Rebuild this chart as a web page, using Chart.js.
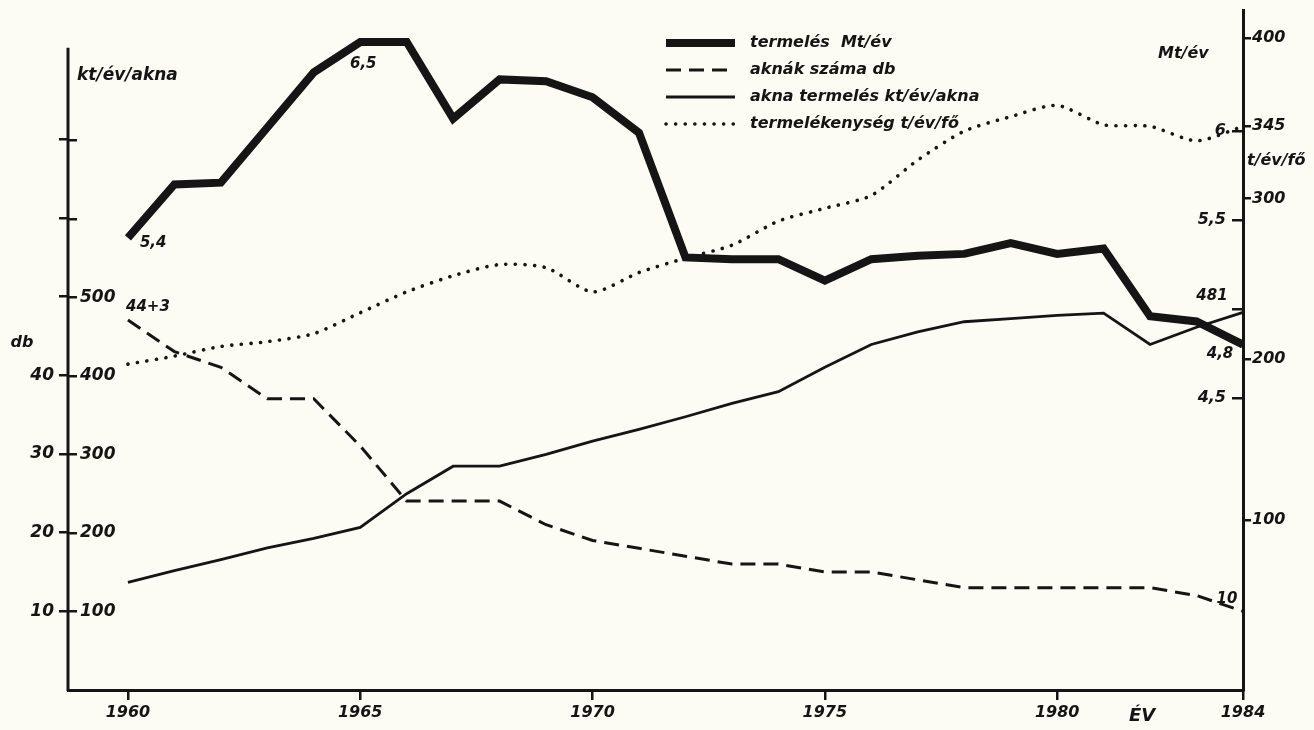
<!DOCTYPE html>
<html lang="hu">
<head>
<meta charset="utf-8">
<title>Termelés, aknák száma, termelékenység 1960–1984</title>
<script src="https://cdn.jsdelivr.net/npm/chart.js@4.4.1/dist/chart.umd.min.js"></script>
<style>
  html, body { margin: 0; padding: 0; background: #fcfcf4; }
  #chart { display: block; }
</style>
</head>
<body>
<canvas id="chart" width="1314" height="730"></canvas>
<script>
// ── Series (1960–1984) ─────────────────────────────────────────────
const YEARS = [1960, 1961, 1962, 1963, 1964, 1965, 1966, 1967, 1968, 1969,
               1970, 1971, 1972, 1973, 1974, 1975, 1976, 1977, 1978, 1979,
               1980, 1981, 1982, 1983, 1984];

// termelés, Mt/év
const TERMELES = [5.4, 5.70, 5.71, 6.02, 6.33, 6.5, 6.5, 6.07, 6.29, 6.28,
                  6.19, 5.99, 5.29, 5.28, 5.28, 5.16, 5.28, 5.30, 5.31, 5.37,
                  5.31, 5.34, 4.96, 4.93, 4.8];

// aknák száma, db
const AKNAK = [47, 43, 41, 37, 37, 31, 24, 24, 24, 21,
               19, 18, 17, 16, 16, 15, 15, 14, 13, 13,
               13, 13, 13, 12, 10];

// akna termelés, kt/év/akna
const AKNA_TERMELES = [137, 152, 166, 181, 193, 207, 250, 285, 285, 300,
                       317, 332, 348, 365, 380, 411, 440, 456, 469, 473,
                       477, 480, 440, 462, 481];

// termelékenység, t/év/fő
const TERMELEKENYSEG = [197, 202, 208, 211, 216, 229, 242, 252, 259, 257,
                        242, 254, 263, 271, 286, 294, 302, 324, 342, 351,
                        358, 346, 345, 336, 345];

const LEGEND_LABELS = [
  "termelés  Mt/év",
  "aknák száma db",
  "akna termelés kt/év/akna",
  "termelékenység t/év/fő",
];

// ── Tick values ────────────────────────────────────────────────────
const X_TICKS  = [1960, 1965, 1970, 1975, 1980, 1984];
const DB_TICKS = [10, 20, 30, 40, 50, 60, 70];
const KT_TICKS = [100, 200, 300, 400, 500, 600, 700];
const MT_TICKS = [4.5, 5, 5.5, 6];
const MT_TICK_TEXT = ["4,5", "", "5,5", "6"];
const T_TICKS  = [100, 200, 300, 345, 400];

// ── Look ───────────────────────────────────────────────────────────
const INK  = "#151515";
const FACE = '"DejaVu Sans", "Liberation Sans", sans-serif';
const font = size => ({ family: FACE, size, weight: "bold", style: "italic" });
const cssFont = size => `italic bold ${size}px ${FACE}`;

const pts = vals => YEARS.map((x, i) => ({ x, y: vals[i] }));
const comma = v => String(v).replace(".", ",");
const setTicks = values => scale => { scale.ticks = values.map(v => ({ value: v })); };

// fixed axis boxes, no extra room for half tick labels
const fixBox = (w, h) => scale => {
  if (w !== null) scale.width = w;
  if (h !== null) scale.height = h;
  scale.paddingTop = scale.paddingBottom = 0;
  scale.paddingLeft = scale.paddingRight = 0;
};

// left axis line stops short of the top (in kt units)
const KT_AXIS_END = 818;

// value notes next to the line ends
const NOTES = [
  { ds: 0, i: 0,  text: comma(TERMELES[0]),  dx: 12,  dy: 5,   align: "left" },
  { ds: 0, i: 5,  text: comma(TERMELES[5]),  dx: 3,   dy: 22,  align: "center" },
  { ds: 1, i: 0,  text: "44+3",              dx: 20,  dy: -13, align: "center" },
  { ds: 2, i: 24, text: String(AKNA_TERMELES[24]), dx: -31, dy: -16, align: "center" },
  { ds: 0, i: 24, text: comma(TERMELES[24]), dx: -23, dy: 9,   align: "center" },
  { ds: 1, i: 24, text: String(AKNAK[24]),   dx: -16, dy: -12, align: "center" },
];

const UNIT_LABELS = [
  { text: "kt/év/akna", x: 77,   y: 76,  size: 17, align: "left" },
  { text: "db",         x: 22,   y: 343, size: 16, align: "center" },
  { text: "Mt/év",      x: 1158, y: 54,  size: 16, align: "left" },
  { text: "t/év/fő",    x: 1247, y: 161, size: 16, align: "left" },
  { text: "ÉV",         x: 1142, y: 716, size: 18, align: "center" },
];

// ── Decorations: left axis, unit labels, notes, legend ─────────────
const decor = {
  id: "decor",
  afterDraw(chart) {
    const ctx = chart.ctx;
    const kt = chart.scales.yKt;
    const area = chart.chartArea;
    ctx.save();

    // left axis line
    ctx.strokeStyle = INK;
    ctx.lineWidth = 3;
    ctx.beginPath();
    ctx.moveTo(area.left, kt.getPixelForValue(KT_AXIS_END));
    ctx.lineTo(area.left, area.bottom + 1);
    ctx.stroke();

    ctx.fillStyle = INK;
    ctx.textBaseline = "middle";
    UNIT_LABELS.forEach(l => {
      ctx.font = cssFont(l.size);
      ctx.textAlign = l.align;
      ctx.fillText(l.text, l.x, l.y);
    });

    ctx.font = cssFont(15);
    NOTES.forEach(n => {
      const el = chart.getDatasetMeta(n.ds).data[n.i];
      ctx.textAlign = n.align;
      ctx.fillText(n.text, el.x + n.dx, el.y + n.dy);
    });

    // legend
    chart.data.datasets.forEach((ds, k) => {
      const y = 43 + k * 27;
      ctx.lineWidth = ds.borderWidth;
      ctx.lineCap = ds.borderCapStyle || "butt";
      ctx.setLineDash(ds.borderDash || []);
      ctx.beginPath();
      ctx.moveTo(666, y);
      ctx.lineTo(735, y);
      ctx.stroke();
      ctx.setLineDash([]);
      ctx.font = cssFont(16);
      ctx.textAlign = "left";
      ctx.fillText(ds.label, 750, y);
    });
    ctx.restore();
  },
};

new Chart(document.getElementById("chart"), {
  type: "line",
  data: {
    datasets: [
      {
        label: LEGEND_LABELS[0], data: pts(TERMELES), yAxisID: "yMt",
        borderColor: INK, borderWidth: 8, borderJoinStyle: "miter",
        pointRadius: 0, tension: 0, clip: false,
      },
      {
        label: LEGEND_LABELS[1], data: pts(AKNAK), yAxisID: "yDb",
        borderColor: INK, borderWidth: 3, borderDash: [15, 8],
        pointRadius: 0, tension: 0, clip: false,
      },
      {
        label: LEGEND_LABELS[2], data: pts(AKNA_TERMELES), yAxisID: "yKt",
        borderColor: INK, borderWidth: 2.8,
        pointRadius: 0, tension: 0, clip: false,
      },
      {
        label: LEGEND_LABELS[3], data: pts(TERMELEKENYSEG), yAxisID: "yT",
        borderColor: INK, borderWidth: 3.6, borderDash: [0.1, 9.5], borderCapStyle: "round",
        pointRadius: 0, tension: 0.25, clip: false,
      },
    ],
  },
  options: {
    responsive: false,
    devicePixelRatio: 1,
    animation: false,
    events: [],
    layout: { padding: { top: 10, left: 0, right: 0, bottom: 0 } },
    plugins: { legend: { display: false }, tooltip: { enabled: false } },
    scales: {
      x: {
        type: "linear", min: 1958.71, max: 1984,
        afterBuildTicks: setTicks(X_TICKS),
        afterFit: fixBox(null, 40),
        border: { display: true, color: INK, width: 3 },
        grid: { drawOnChartArea: false, color: INK, lineWidth: 2.5, tickLength: 10 },
        ticks: { color: INK, font: font(16), padding: 3, maxRotation: 0, autoSkip: false,
                 callback: v => String(v) },
      },
      yDb: {
        position: "left", weight: 1, min: 0, max: 86.4,
        afterBuildTicks: setTicks(DB_TICKS),
        afterFit: fixBox(68, null),
        border: { display: false },
        grid: { drawOnChartArea: false, color: INK, lineWidth: 2.5, tickLength: 9 },
        ticks: { color: INK, font: font(17), padding: 5, autoSkip: false,
                 callback: v => (v <= 40 ? String(v) : "") },
      },
      yKt: {
        position: "left", weight: 0, min: 0, max: 866,
        afterBuildTicks: setTicks(KT_TICKS),
        afterFit: fixBox(0, null),
        border: { display: false },
        grid: { drawOnChartArea: false, color: INK, lineWidth: 2.5, tickLength: -9 },
        ticks: { mirror: true, color: INK, font: font(17), padding: 12, autoSkip: false,
                 callback: v => (v <= 500 ? String(v) : "") },
      },
      yMt: {
        position: "right", weight: 0, min: 2.86, max: 6.68,
        afterBuildTicks: setTicks(MT_TICKS),
        afterFit: fixBox(0, null),
        border: { display: true, color: INK, width: 3 },
        grid: { drawOnChartArea: false, color: INK, lineWidth: 2.5, tickLength: -11 },
        ticks: { mirror: true, color: INK, font: font(16), padding: -17, autoSkip: false,
                 callback: v => MT_TICK_TEXT[MT_TICKS.indexOf(v)] },
      },
      yT: {
        position: "right", weight: 1, min: -5.8, max: 417.4,
        afterBuildTicks: setTicks(T_TICKS),
        afterFit: fixBox(71, null),
        border: { display: false },
        grid: { drawOnChartArea: false, color: INK, lineWidth: 2.5, tickLength: 8 },
        ticks: { color: INK, font: font(16), padding: 1, autoSkip: false,
                 callback: v => String(v) },
      },
    },
  },
  plugins: [decor],
});
</script>
</body>
</html>
